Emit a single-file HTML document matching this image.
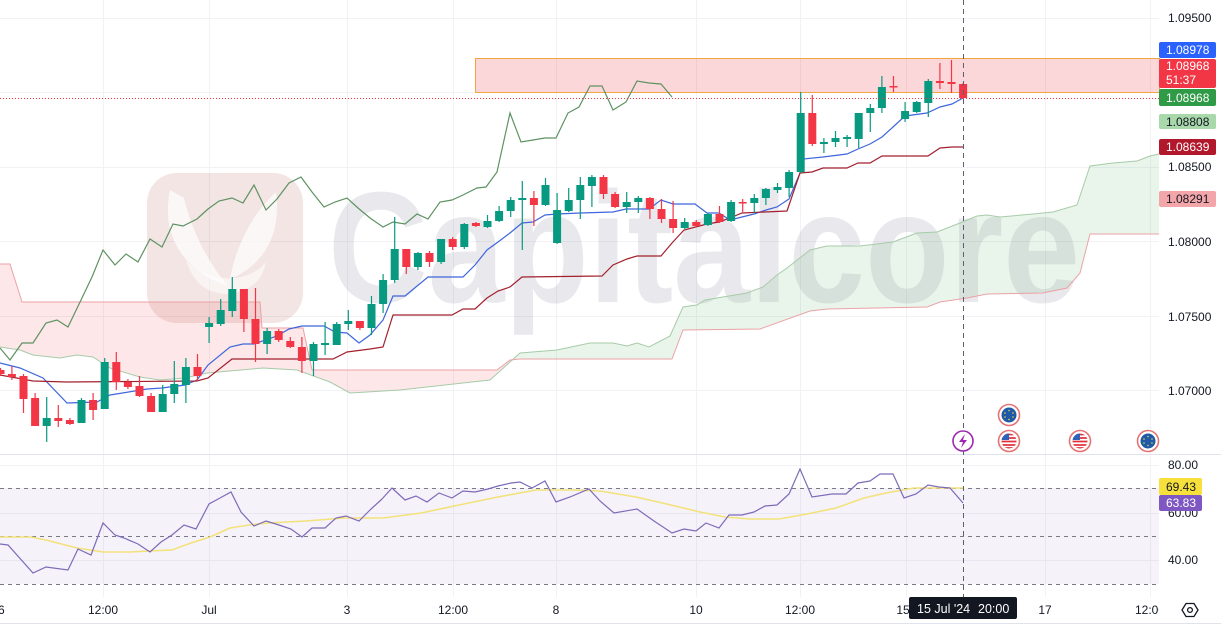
<!DOCTYPE html>
<html><head><meta charset="utf-8"><style>
html,body{margin:0;padding:0;background:#fff;}
svg{display:block;font-family:"Liberation Sans",sans-serif;}
</style></head><body>
<svg width="1221" height="625" viewBox="0 0 1221 625" xmlns="http://www.w3.org/2000/svg">
<defs>
<clipPath id="cR"><rect x="0" y="0" width="513" height="454"/></clipPath>
<clipPath id="cG"><rect x="513" y="0" width="646" height="454"/></clipPath>
<clipPath id="cT"><rect x="0" y="590" width="1159" height="35"/></clipPath>
<clipPath id="cUS1"><circle cx="1009" cy="441" r="7.5"/></clipPath>
<clipPath id="cUS2"><circle cx="1080" cy="441" r="7.5"/></clipPath>
</defs>
<rect width="1221" height="625" fill="#fff"/>

<!-- grid -->
<g stroke="#f0f2f6" stroke-width="1">
<path d="M103.5,0V597M209.5,0V597M347.5,0V597M453.5,0V597M556.5,0V597M696.5,0V597M800.5,0V597M906.5,0V597M1045.5,0V597M1150.5,0V597"/>
<path d="M0,18.5H1159M0,92.5H1159M0,167.5H1159M0,241.5H1159M0,316.5H1159M0,390.5H1159"/>
<path d="M0,465.5H1159M0,513.5H1159M0,560.5H1159"/>
</g>

<!-- watermark -->
<rect x="147" y="173" width="156" height="150" rx="30" fill="rgba(185,110,100,0.18)"/>
<path d="M170,190 C160,238 186,272 228,286 C208,262 192,232 184,198 Z" fill="rgba(255,255,255,0.7)"/>
<path d="M276,192 C282,236 262,266 230,279 C236,246 252,214 276,192 Z" fill="rgba(255,255,255,0.7)"/>
<path d="M186,260 C204,282 246,286 266,262 C262,282 250,292 226,294 C204,293 192,280 186,260 Z" fill="rgba(255,255,255,0.55)"/>
<text x="328" y="302" font-size="158" font-weight="bold" fill="rgba(100,100,130,0.14)" textLength="752" lengthAdjust="spacingAndGlyphs">Capitalcore</text>

<!-- cloud fill -->
<polygon clip-path="url(#cR)" fill="rgba(242,54,69,0.12)" points="0,347 20,350 33,355 60,358 77,355 93,357 110,368 140,377 160,380 185,378 207,373 263,368 297,370 330,382 350,393 400,390 490,380 520,353 557,350 590,343 613,343 627,346 637,343 649,347 670,336 683,307 697,305 705,300 723,297 747,293 763,287 777,275 787,268 810,250 827,246 860,246 893,242 917,233 937,232 960,223 977,216 987,215 1000,217 1033,214 1053,212 1077,205 1090,166 1113,163 1137,161 1150,156 1159,154 1159,234 1090,234 1080,273 1067,288 1043,293 987,294 967,298 940,302 927,307 827,309 810,311 760,329 683,330 672,359 520,359 510,360 497,370 312,370 303,328 262,328 260,302 22,302 10,264 0,264"/>
<polygon clip-path="url(#cG)" fill="rgba(76,175,80,0.12)" points="0,347 20,350 33,355 60,358 77,355 93,357 110,368 140,377 160,380 185,378 207,373 263,368 297,370 330,382 350,393 400,390 490,380 520,353 557,350 590,343 613,343 627,346 637,343 649,347 670,336 683,307 697,305 705,300 723,297 747,293 763,287 777,275 787,268 810,250 827,246 860,246 893,242 917,233 937,232 960,223 977,216 987,215 1000,217 1033,214 1053,212 1077,205 1090,166 1113,163 1137,161 1150,156 1159,154 1159,234 1090,234 1080,273 1067,288 1043,293 987,294 967,298 940,302 927,307 827,309 810,311 760,329 683,330 672,359 520,359 510,360 497,370 312,370 303,328 262,328 260,302 22,302 10,264 0,264"/>
<polyline fill="none" stroke="#a7cba9" stroke-width="1" points="0,347 20,350 33,355 60,358 77,355 93,357 110,368 140,377 160,380 185,378 207,373 263,368 297,370 330,382 350,393 400,390 490,380 520,353 557,350 590,343 613,343 627,346 637,343 649,347 670,336 683,307 697,305 705,300 723,297 747,293 763,287 777,275 787,268 810,250 827,246 860,246 893,242 917,233 937,232 960,223 977,216 987,215 1000,217 1033,214 1053,212 1077,205 1090,166 1113,163 1137,161 1150,156 1159,154"/>
<polyline fill="none" stroke="#eba2a6" stroke-width="1" points="0,264 10,264 22,302 260,302 262,328 303,328 312,370 497,370 510,360 520,359 672,359 683,330 760,329 810,311 827,309 927,307 940,302 967,298 987,294 1043,293 1067,288 1080,273 1090,234 1159,234"/>

<!-- resistance zone -->
<rect x="475.5" y="58.5" width="684" height="34" fill="rgba(242,54,69,0.2)" stroke="#f2a541" stroke-width="1"/>

<!-- chikou -->
<polyline fill="none" stroke="#5e9262" stroke-width="1.2" points="0,348 10,360 22,343 33,343 46,323 57,320 68,327 81,300 92,277 103,250 115,265 126,254 138,262 150,239 162,247 173,224 183,226 197,219 208,209 219,201 232,198 243,203 254,185 266,210 277,199 289,183 301,177 312,192 324,207 335,202 347,198 358,208 370,218 383,227 393,222 405,224 417,214 428,219 440,202 452,200 463,195 477,188 486,187 497,172 510,113 521,142 533,140 545,138 556,138 568,113 579,107 590,86 602,86 613,110 626,102 637,81 649,83 661,84 672,97"/>
<!-- tenkan -->
<polyline fill="none" stroke="#3f66dc" stroke-width="1.2" points="0,363 20,368 43,378 67,403 97,402 110,395 147,389 162,388 185,385 197,380 208,365 230,347 243,344 254,344 277,336 289,329 302,326 324,326 335,332 347,333 359,343 370,335 383,320 393,296 405,296 428,277 463,277 475,265 487,250 498,242 510,233 522,223 533,222 545,215 557,214 580,213 613,212 626,209 649,209 661,200 673,204 695,204 707,213 719,213 730,220 742,217 754,214 766,210 777,207 789,199 800,173 803,159 823,157 847,154 858,149 870,144 882,137 893,127 905,116 927,113 940,107 952,104 963,98"/>
<!-- kijun -->
<polyline fill="none" stroke="#a3202d" stroke-width="1.2" points="0,375 33,381 67,382 197,381 208,378 232,359 333,359 347,352 370,349 383,347 393,315 452,315 463,309 475,309 487,298 498,291 510,287 522,277 602,276 613,265 627,259 637,256 661,256 672,243 684,230 707,224 719,222 730,218 742,213 787,211 800,173 812,172 823,168 847,168 858,163 870,163 882,156 928,156 940,148 952,147 963,147"/>

<!-- green candles -->
<path stroke="#089981" stroke-width="1.2" fill="none" d="M46.7,397V442M81.5,398V423M104.7,358V409M162.7,385V412M174.3,361V403M185.9,358V403M209.1,317V343M220.7,299V326M232.3,277V317M267.1,328V354M313.5,342V376M325.1,322V355M336.7,322V345M348.3,310V330M371.5,296V335M383.1,274V313M394.7,217V283M417.9,252V270M441.1,239V264M464.3,223V249M487.5,215V228M499.1,206V222M510.7,197V217M522.3,181V250M545.5,178V206M557.1,193V244M568.7,188V212M580.3,177V219M591.9,175V207M626.7,192V213M638.3,196V213M684.7,218V229M707.9,213V226M731.1,200V222M754.3,194V213M765.9,188V205M777.5,183V193M789.1,170V197M800.7,92V173M823.9,138V153M835.5,131V147M847.1,135V147M858.7,113V148M870.3,104V132M881.9,76V113M905.1,102V122M916.7,101V113M928.3,79V117"/>
<g fill="#089981">
<rect x="42.7" y="418" width="8" height="8"/><rect x="77.5" y="400" width="8" height="23"/><rect x="100.7" y="362" width="8" height="47"/><rect x="158.7" y="394" width="8" height="18"/><rect x="170.3" y="384" width="8" height="10"/><rect x="181.9" y="367" width="8" height="18"/><rect x="205.1" y="323" width="8" height="4"/><rect x="216.7" y="310" width="8" height="14"/><rect x="228.3" y="289" width="8" height="22"/><rect x="263.1" y="331" width="8" height="13"/><rect x="309.5" y="344" width="8" height="17"/><rect x="321.1" y="343" width="8" height="2"/><rect x="332.7" y="324" width="8" height="21"/><rect x="344.3" y="321" width="8" height="3"/><rect x="367.5" y="304" width="8" height="24"/><rect x="379.1" y="280" width="8" height="24"/><rect x="390.7" y="249" width="8" height="31"/><rect x="413.9" y="253" width="8" height="14"/><rect x="437.1" y="239" width="8" height="23"/><rect x="460.3" y="224" width="8" height="23"/><rect x="483.5" y="221" width="8" height="6"/><rect x="495.1" y="211" width="8" height="10"/><rect x="506.7" y="200" width="8" height="11"/><rect x="518.3" y="198" width="8" height="2"/><rect x="541.5" y="185" width="8" height="20"/><rect x="553.1" y="210" width="8" height="33"/><rect x="564.7" y="200" width="8" height="11"/><rect x="576.3" y="185" width="8" height="15"/><rect x="587.9" y="177" width="8" height="9"/><rect x="622.7" y="202" width="8" height="5"/><rect x="634.3" y="198" width="8" height="4"/><rect x="680.7" y="222" width="8" height="6"/><rect x="703.9" y="214" width="8" height="11"/><rect x="727.1" y="202" width="8" height="19"/><rect x="750.3" y="198" width="8" height="5"/><rect x="761.9" y="189" width="8" height="9"/><rect x="773.5" y="187" width="8" height="3"/><rect x="785.1" y="172" width="8" height="16"/><rect x="796.7" y="113" width="8" height="59"/><rect x="819.9" y="142" width="8" height="2"/><rect x="831.5" y="138" width="8" height="4"/><rect x="843.1" y="137" width="8" height="2"/><rect x="854.7" y="113" width="8" height="26"/><rect x="866.3" y="108" width="8" height="5"/><rect x="877.9" y="87" width="8" height="21"/><rect x="901.1" y="111" width="8" height="8"/><rect x="912.7" y="102" width="8" height="10"/><rect x="924.3" y="81" width="8" height="22"/>
</g>
<!-- red candles -->
<path stroke="#f23645" stroke-width="1.2" fill="none" d="M0.5,368V376M11.9,366V380M23.5,374V413M35.1,393V426M58.3,405V427M69.9,418V425M93.1,393V420M116.3,352V390M127.9,379V389M139.5,376V397M151.1,393V412M197.5,354V381M243.9,289V332M255.5,288V362M278.7,329V342M290.3,337V348M301.9,337V373M359.9,321V330M406.3,249V274M429.5,251V267M452.7,237V250M475.9,222V227M533.9,191V226M603.5,175V199M615.1,192V208M649.9,197V219M661.5,199V223M673.1,201V233M696.3,220V227M719.5,206V223M742.7,199V212M812.3,95V146M893.5,76V92M939.9,63V89M951.5,60V93M963.1,83V99"/>
<g fill="#f23645">
<rect x="-3.5" y="370" width="8" height="4"/><rect x="7.9" y="374" width="8" height="3"/><rect x="19.5" y="376" width="8" height="23"/><rect x="31.1" y="398" width="8" height="28"/><rect x="54.3" y="418" width="8" height="3"/><rect x="65.9" y="420" width="8" height="4"/><rect x="89.1" y="400" width="8" height="10"/><rect x="112.3" y="362" width="8" height="20"/><rect x="123.9" y="382" width="8" height="5"/><rect x="135.5" y="386" width="8" height="10"/><rect x="147.1" y="396" width="8" height="16"/><rect x="193.5" y="367" width="8" height="9"/><rect x="239.9" y="289" width="8" height="30"/><rect x="251.5" y="319" width="8" height="25"/><rect x="274.7" y="331" width="8" height="9"/><rect x="286.3" y="341" width="8" height="6"/><rect x="297.9" y="347" width="8" height="14"/><rect x="355.9" y="321" width="8" height="7"/><rect x="402.3" y="249" width="8" height="18"/><rect x="425.5" y="253" width="8" height="9"/><rect x="448.7" y="239" width="8" height="8"/><rect x="471.9" y="223" width="8" height="3"/><rect x="529.9" y="198" width="8" height="7"/><rect x="599.5" y="177" width="8" height="17"/><rect x="611.1" y="194" width="8" height="13"/><rect x="645.9" y="198" width="8" height="11"/><rect x="657.5" y="209" width="8" height="10"/><rect x="669.1" y="219" width="8" height="9"/><rect x="692.3" y="222" width="8" height="4"/><rect x="715.5" y="214" width="8" height="8"/><rect x="738.7" y="202" width="8" height="1.5"/><rect x="808.3" y="113" width="8" height="31"/><rect x="889.5" y="86" width="8" height="1.5"/><rect x="935.9" y="81" width="8" height="2"/><rect x="947.5" y="82" width="8" height="2"/><rect x="959.1" y="84" width="8" height="14"/>
</g>

<!-- current price dotted line -->
<path d="M0,98.5H1159" stroke="#f23645" stroke-width="1" stroke-dasharray="1,2"/>

<!-- pane separator -->
<path d="M0,454.5H1221" stroke="#e0e3eb" stroke-width="1"/>
<path d="M0,623.5H1221" stroke="#e0e3eb" stroke-width="1"/>

<!-- RSI pane -->
<rect x="0" y="488" width="1159" height="96" fill="rgba(126,87,194,0.08)"/>
<g stroke="#787b86" stroke-width="1" stroke-dasharray="4,4">
<path d="M0,488.5H1159M0,536.5H1159M0,584.5H1159"/>
</g>
<polyline fill="none" stroke="#f3e27a" stroke-width="1.6" points="0,537 31,537 46,540 77,548 103,552 130,552 149,551 172,550 191,543 210,537 230,528 249,525 268,523 306,521 344,518 383,518 421,513 459,505 498,497 536,490 574,490 600,491 636,497 671,505 700,512 725,517 750,519 779,519 807,514 836,508 864,498 886,493 914,488 936,488 957,488 963,488"/>
<polyline fill="none" stroke="#7e6bb8" stroke-width="1.2" points="0,544 8,545 33,573 46,567 68,570 78,549 91,555 103,523 115,535 124,538 138,544 150,552 161,542 172,535 184,525 196,529 209,504 220,498 231,492 241,512 254,526 266,521 279,525 291,529 302,537 312,528 325,528 336,518 346,516 359,521 370,510 382,499 392,488 405,500 416,496 427,502 439,493 452,498 463,491 475,492 488,489 498,486 511,483 520,482 532,488 545,481 556,502 570,497 589,489 600,501 614,513 637,509 654,521 672,533 684,529 696,531 706,523 719,528 729,515 742,515 754,512 765,506 777,505 789,494 800,469 812,497 832,494 846,494 858,483 870,481 880,474 893,474 904,498 916,494 928,485 939,487 950,488 963,503"/>

<!-- crosshair vertical -->
<path d="M963.5,0V597" stroke="#5d606b" stroke-width="1" stroke-dasharray="5,4"/>

<!-- event icons -->
<g>
<circle cx="963" cy="441" r="10" fill="#fff" stroke="#9c27b0" stroke-width="1.6"/>
<path d="M965,434 L959,442 L963,442 L961,448 L967,440 L963,440 Z" fill="#9c27b0"/>

<circle cx="1009" cy="415" r="10.5" fill="#fff" stroke="#e57373" stroke-width="1.6"/>
<circle cx="1009" cy="415" r="7.5" fill="#1e5aa8"/>
<g fill="#f5d33a"><circle cx="1009" cy="410.5" r="0.8"/><circle cx="1013" cy="413" r="0.8"/><circle cx="1013" cy="417" r="0.8"/><circle cx="1009" cy="419.5" r="0.8"/><circle cx="1005" cy="417" r="0.8"/><circle cx="1005" cy="413" r="0.8"/></g>

<circle cx="1009" cy="441" r="10.5" fill="#fff" stroke="#e57373" stroke-width="1.6"/>
<g clip-path="url(#cUS1)">
<rect x="1000" y="433" width="18" height="16" fill="#fff"/>
<path d="M1000,434.5H1018M1000,438H1018M1000,441.5H1018M1000,445H1018M1000,448H1018" stroke="#e0333f" stroke-width="1.7"/>
<rect x="1000" y="433" width="9" height="7" fill="#2f63b8"/>
</g>
<circle cx="1080" cy="441" r="10.5" fill="#fff" stroke="#e57373" stroke-width="1.6"/>
<g clip-path="url(#cUS2)">
<rect x="1071" y="433" width="18" height="16" fill="#fff"/>
<path d="M1071,434.5H1089M1071,438H1089M1071,441.5H1089M1071,445H1089M1071,448H1089" stroke="#e0333f" stroke-width="1.7"/>
<rect x="1071" y="433" width="9" height="7" fill="#2f63b8"/>
</g>
<circle cx="1148" cy="441" r="10.5" fill="#fff" stroke="#e57373" stroke-width="1.6"/>
<circle cx="1148" cy="441" r="7.5" fill="#1e5aa8"/>
<g fill="#f5d33a"><circle cx="1148" cy="436.5" r="0.8"/><circle cx="1152" cy="439" r="0.8"/><circle cx="1152" cy="443" r="0.8"/><circle cx="1148" cy="445.5" r="0.8"/><circle cx="1144" cy="443" r="0.8"/><circle cx="1144" cy="439" r="0.8"/></g>
</g>

<!-- price axis labels -->
<g font-size="12" fill="#131722">
<text x="1168" y="22">1.09500</text>
<text x="1168" y="171">1.08500</text>
<text x="1168" y="246">1.08000</text>
<text x="1168" y="321">1.07500</text>
<text x="1168" y="395">1.07000</text>
</g>
<rect x="1159" y="42" width="57" height="16" rx="2" fill="#2962ff"/>
<text x="1166" y="54" font-size="12" fill="#fff">1.08978</text>
<rect x="1159" y="59" width="57" height="29" rx="2" fill="#f23645"/>
<text x="1166" y="70" font-size="12" fill="#fff">1.08968</text>
<text x="1166" y="84" font-size="12" fill="#fff">51:37</text>
<rect x="1159" y="89" width="57" height="17" rx="2" fill="#2f9b46"/>
<text x="1166" y="102" font-size="12" fill="#fff">1.08968</text>
<rect x="1159" y="114" width="57" height="15" rx="2" fill="#a9d8ab"/>
<text x="1166" y="126" font-size="12" fill="#131722">1.08808</text>
<rect x="1159" y="139" width="57" height="16" rx="2" fill="#b2182b"/>
<text x="1166" y="151" font-size="12" fill="#fff">1.08639</text>
<rect x="1159" y="191" width="57" height="16" rx="2" fill="#f2a6aa"/>
<text x="1166" y="203" font-size="12" fill="#131722">1.08291</text>

<!-- RSI axis labels -->
<g font-size="12" fill="#131722">
<text x="1168" y="469">80.00</text>
<text x="1168" y="517">60.00</text>
<text x="1168" y="564">40.00</text>
</g>
<rect x="1159" y="478" width="43" height="17" rx="2" fill="#f7e03c"/>
<text x="1166" y="491" font-size="12" fill="#131722">69.43</text>
<rect x="1159" y="495" width="43" height="16" rx="2" fill="#7e57c2"/>
<text x="1166" y="507" font-size="12" fill="#fff">63.83</text>

<!-- time axis -->
<g font-size="12" fill="#131722" text-anchor="middle" clip-path="url(#cT)">
<text x="-2" y="614">26</text>
<text x="103" y="614">12:00</text>
<text x="209" y="614">Jul</text>
<text x="347" y="614">3</text>
<text x="453" y="614">12:00</text>
<text x="556" y="614">8</text>
<text x="696" y="614">10</text>
<text x="800" y="614">12:00</text>
<text x="903" y="614">15</text>
<text x="1045" y="614">17</text>
<text x="1150" y="614">12:00</text>
</g>
<rect x="909" y="597" width="108" height="22" rx="2" fill="#131722"/>
<text x="917" y="613" font-size="12.5" fill="#fff">15 Jul '24</text>
<text x="978" y="613" font-size="12.5" fill="#fff">20:00</text>

<!-- settings gear -->
<path d="M1186,603.5 L1194,603.5 L1198,610 L1194,616.5 L1186,616.5 L1182,610 Z" fill="none" stroke="#131722" stroke-width="1.3"/>
<circle cx="1190" cy="610" r="2.4" fill="none" stroke="#131722" stroke-width="1.3"/>
</svg>
</body></html>
